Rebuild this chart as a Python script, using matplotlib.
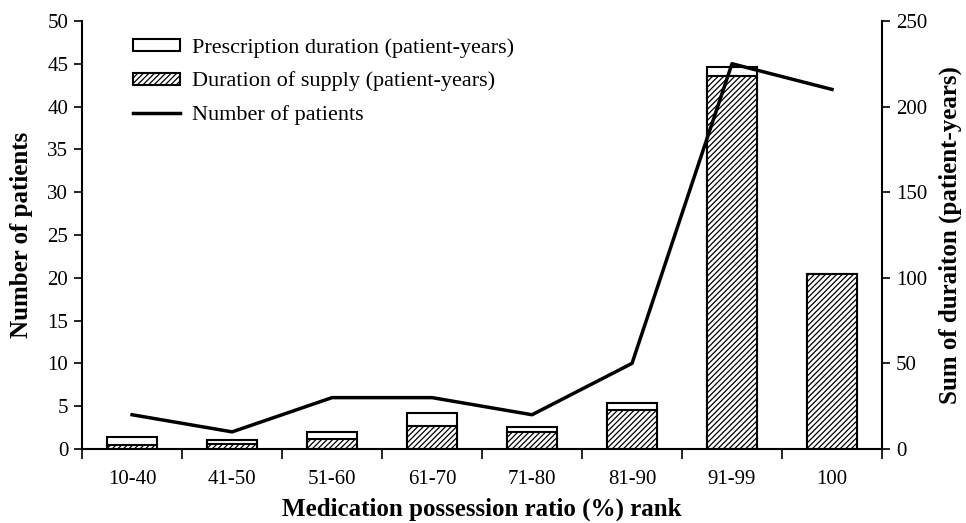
import matplotlib
matplotlib.use('Agg')
import matplotlib.pyplot as plt
import numpy as np

plt.rcParams['font.family'] = ['Liberation Serif', 'DejaVu Serif']
plt.rcParams['hatch.linewidth'] = 0.9

# MPR rank groups
categories = ['10-40', '41-50', '51-60', '61-70', '71-80', '81-90', '91-99', '100']
# patient-years (right axis)
prescription_duration = [6.8, 5.2, 9.7, 21.2, 13.0, 27.0, 223.0, 102.0]
supply_duration = [2.3, 2.7, 5.7, 13.6, 10.0, 22.7, 218.0, 102.0]
# number of patients (left axis)
n_patients = [4, 2, 6, 6, 4, 10, 45, 42]

fs = 15
fs_leg = 16
fs_lab = 18
x = np.arange(len(categories))

fig = plt.figure(figsize=(9.66, 5.23), dpi=100)
ax = fig.add_axes([0.085, 0.1415, 0.828, 0.8185])
ax2 = ax.twinx()

b1 = ax2.bar(x, prescription_duration, width=0.5, color='white', edgecolor='black',
             linewidth=1.5, label='Prescription duration (patient-years)')
b2 = ax2.bar(x, supply_duration, width=0.5, color='white', edgecolor='black',
             linewidth=1.5, hatch='//////', label='Duration of supply (patient-years)')
ln, = ax.plot(x, n_patients, color='black', linewidth=2.5, label='Number of patients')

# line on top of the bars
ax.set_zorder(ax2.get_zorder() + 1)
ax.patch.set_visible(False)

ax.set_xlim(-0.5, len(categories) - 0.5)
ax.set_ylim(0, 50)
ax2.set_ylim(0, 250)
ax.set_yticks(np.arange(0, 51, 5))
ax2.set_yticks(np.arange(0, 251, 50))

# category boundaries get the tick marks, labels sit in between
ax.set_xticks(np.arange(-0.5, len(categories)), labels=[''] * (len(categories) + 1))
ax.set_xticks(x, labels=categories, minor=True)
ax.tick_params(axis='x', which='major', direction='out', length=7, width=1.2)
ax.tick_params(axis='x', which='minor', length=0, pad=15, labelsize=fs)
ax.tick_params(axis='y', direction='out', length=6, width=1.2, labelsize=fs, pad=4)
ax2.tick_params(axis='y', direction='out', length=6, width=1.2, labelsize=fs, pad=4)

for a in (ax, ax2):
    a.spines['top'].set_visible(False)
    for s in ('left', 'right', 'bottom'):
        a.spines[s].set_linewidth(1.5)
ax.spines['right'].set_visible(False)
ax2.spines['left'].set_visible(False)
ax2.spines['bottom'].set_visible(False)

ax.set_ylabel('Number of patients', fontsize=fs_lab, fontweight='bold', labelpad=10)
ax2.set_ylabel('Sum of duraiton (patient-years)', fontsize=fs_lab, fontweight='bold', labelpad=8)
ax.set_xlabel('Medication possession ratio (%) rank', fontsize=fs_lab, fontweight='bold', labelpad=6)

ax.legend(handles=[b1, b2, ln], loc='upper left', bbox_to_anchor=(0.064, 0.96), frameon=False,
          borderpad=0, borderaxespad=0, fontsize=fs_leg, handlelength=2.1, handleheight=0.45,
          handletextpad=0.55, labelspacing=0.62)

fig.savefig('out.png', dpi=100)
